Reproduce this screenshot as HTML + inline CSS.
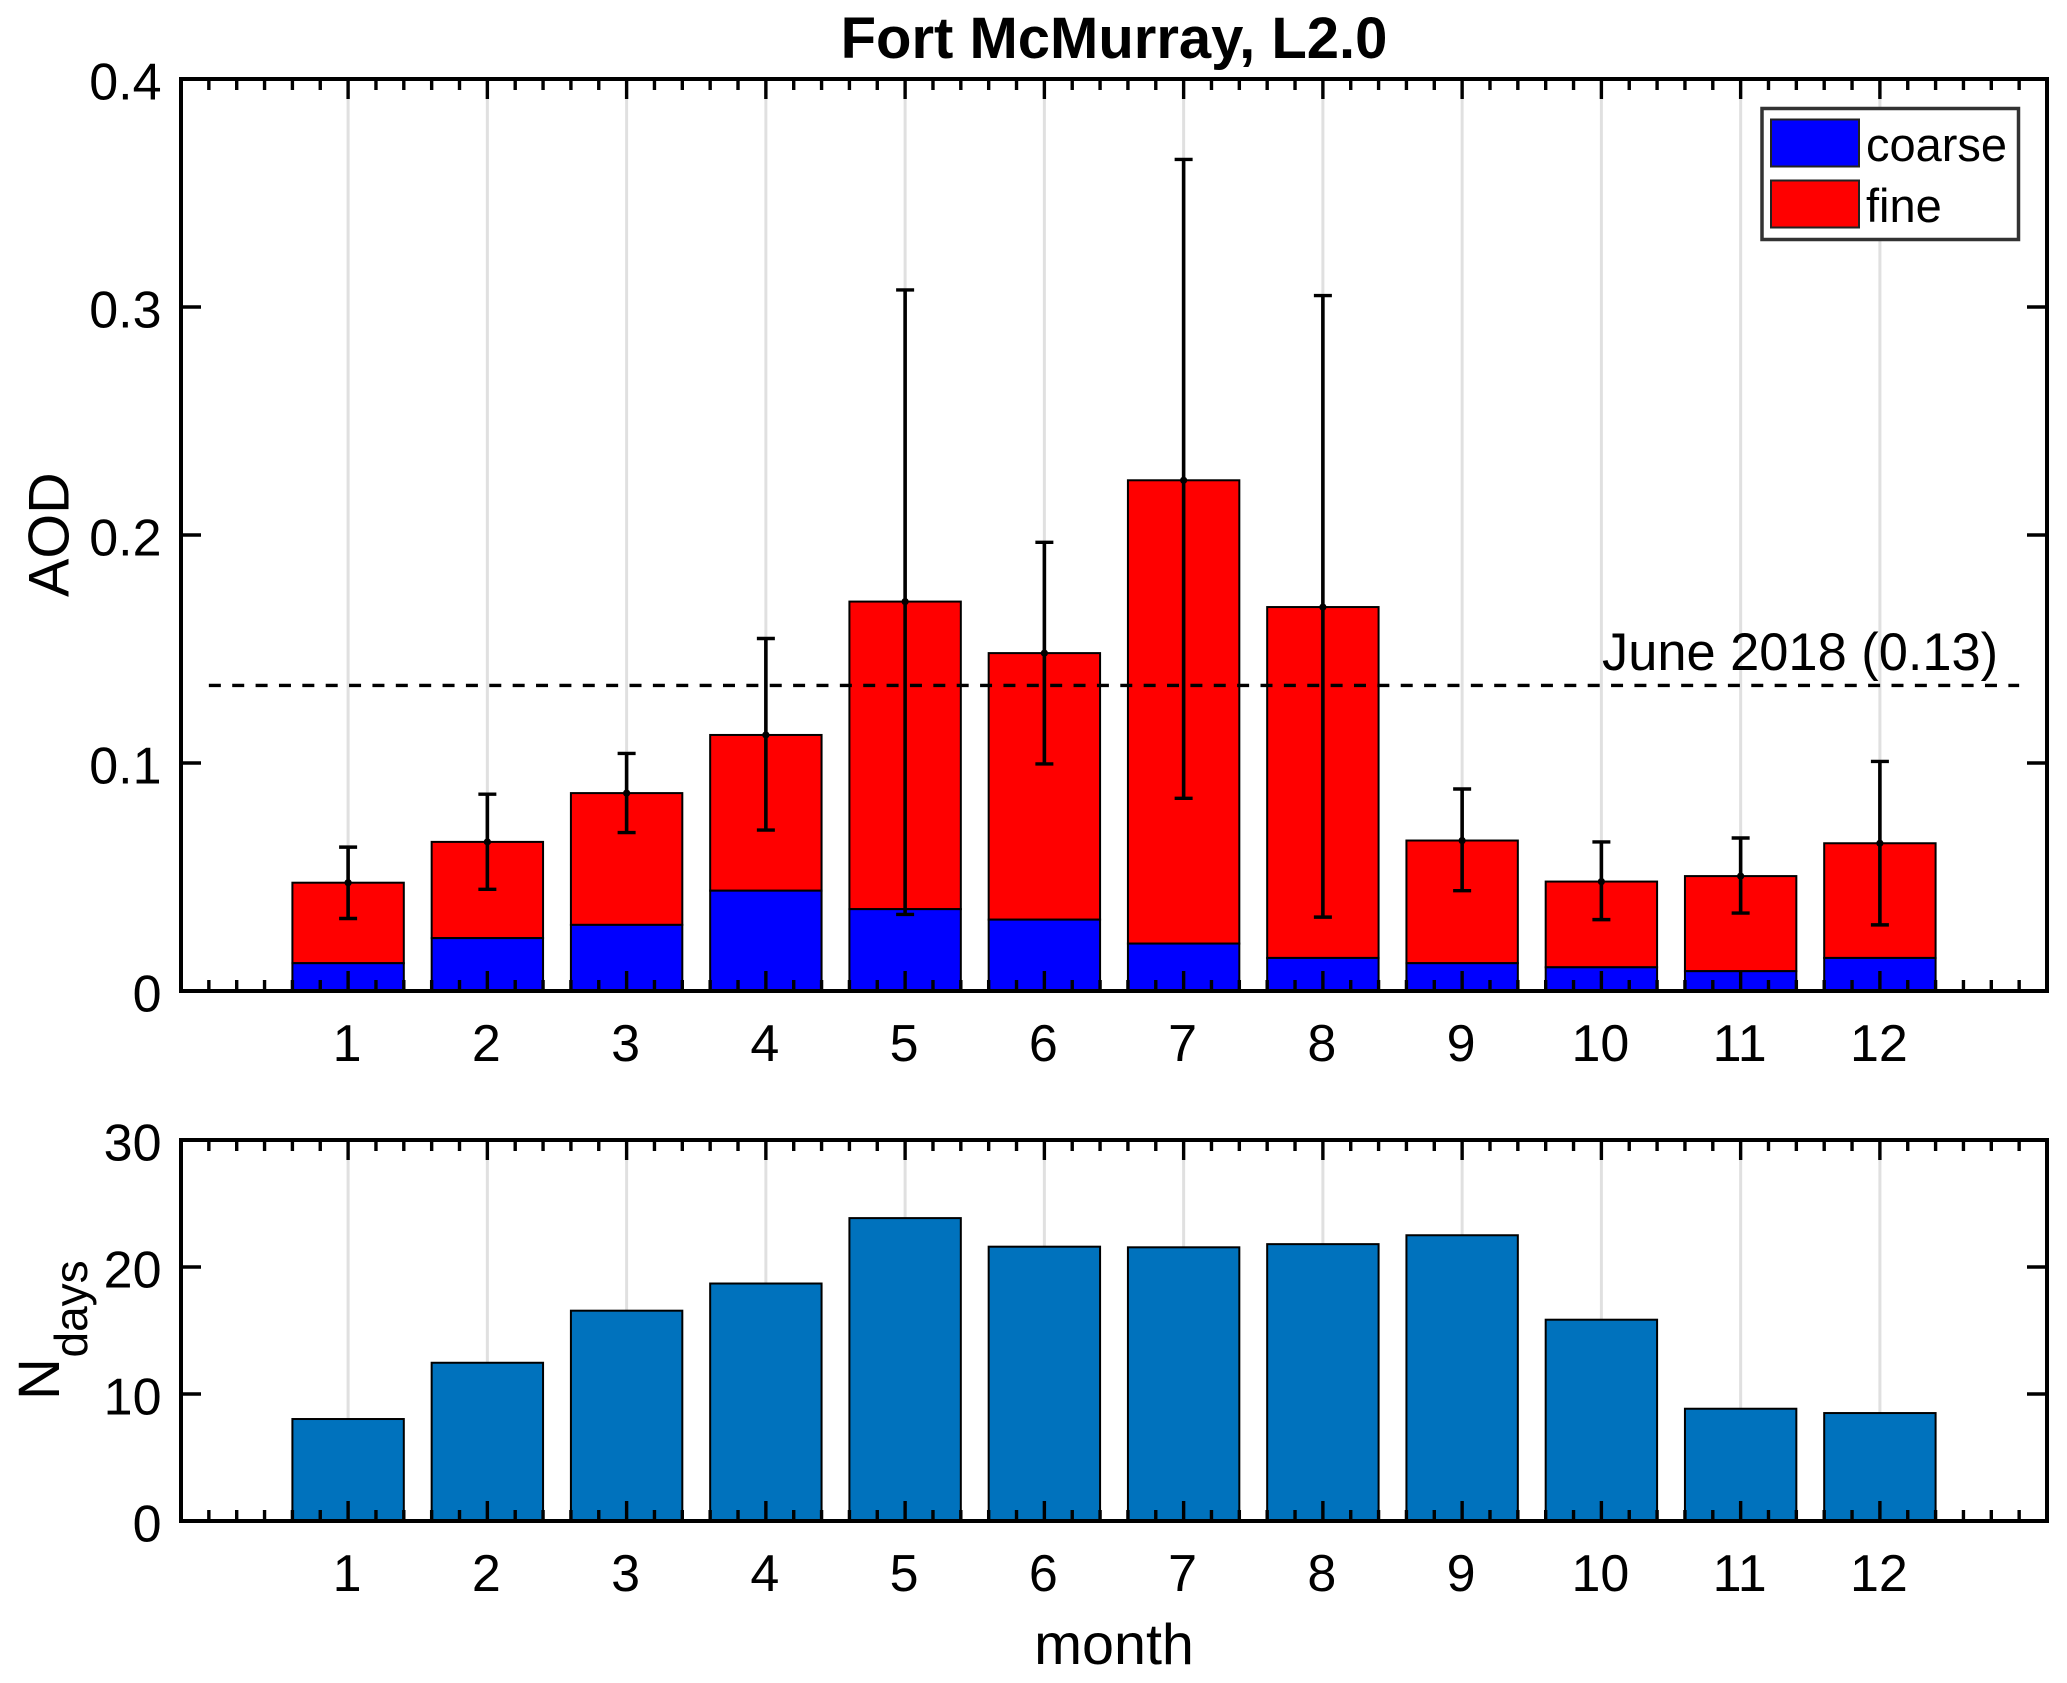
<!DOCTYPE html>
<html lang="en">
<head>
<meta charset="utf-8">
<title>Fort McMurray, L2.0</title>
<style>
html,body{margin:0;padding:0;background:#fff;width:2067px;height:1683px;overflow:hidden}
svg{display:block}
text{font-family:"Liberation Sans",Arial,sans-serif;fill:#000}
</style>
</head>
<body>
<svg id="chart" xmlns="http://www.w3.org/2000/svg" width="2067" height="1683" viewBox="0 0 2067 1683">
  <text x="1114" y="58" font-size="58" font-weight="700" text-anchor="middle">Fort McMurray, L2.0</text>
  <text transform="translate(68.5 597) rotate(-90)" font-size="57.5">AOD</text>
  <text transform="translate(59 1400) rotate(-90)" font-size="58">N</text>
  <text transform="translate(87 1357.5) rotate(-90)" font-size="46">days</text>
  <text x="1114" y="1664" font-size="57.5" text-anchor="middle">month</text>
</svg>
<script>
var months = [1, 2, 3, 4, 5, 6, 7, 8, 9, 10, 11, 12];
var coarseAod = [0.0122, 0.0232, 0.0290, 0.0440, 0.0359, 0.0313, 0.0208, 0.0145, 0.0122, 0.0104, 0.0087, 0.0145];
var fineAod = [0.0353, 0.0422, 0.0578, 0.0683, 0.1349, 0.1169, 0.2032, 0.1539, 0.0538, 0.0376, 0.0417, 0.0503];
var errorUpper = [0.0631, 0.0863, 0.1042, 0.1546, 0.3075, 0.1968, 0.3647, 0.3050, 0.0886, 0.0654, 0.0671, 0.1007];
var errorLower = [0.0318, 0.0446, 0.0695, 0.0706, 0.0336, 0.0996, 0.0845, 0.0324, 0.0440, 0.0313, 0.0342, 0.0290];
var nDays = [8.03, 12.46, 16.56, 18.7, 23.85, 21.6, 21.55, 21.8, 22.5, 15.85, 8.84, 8.5];
var aodTickValues = [0, 0.1, 0.2, 0.3, 0.4];
var aodTickLabels = ['0', '0.1', '0.2', '0.3', '0.4'];
var nDaysTickValues = [0, 10, 20, 30];
var nDaysTickLabels = ['0', '10', '20', '30'];
var referenceValue = 0.134;
var referenceLabel = 'June 2018 (0.13)';
var legendLabels = ['coarse', 'fine'];

var NS = 'http://www.w3.org/2000/svg';
var svg = document.getElementById('chart');
var LEFT = 181, RIGHT = 2047;
var XMIN = -0.2, XMAX = 13.2, BAR_WIDTH = 0.8;

function x(m) { return LEFT + (m - XMIN) / (XMAX - XMIN) * (RIGHT - LEFT); }
function yTop(v) { return 991 - v / 0.4 * (991 - 79); }
function yBottom(v) { return 1521 - v / 30 * (1521 - 1140); }

function make(tag, attrs, text) {
  var el = document.createElementNS(NS, tag);
  for (var k in attrs) el.setAttribute(k, attrs[k]);
  if (text !== undefined) el.textContent = text;
  svg.appendChild(el);
  return el;
}
function line(x1, y1, x2, y2, color, width, extra) {
  var a = { x1: x1, y1: y1, x2: x2, y2: y2, stroke: color, 'stroke-width': width };
  for (var k in (extra || {})) a[k] = extra[k];
  return make('line', a);
}
function rect(x0, y0, w, h, fill, stroke, sw) {
  return make('rect', { x: x0, y: y0, width: w, height: h, fill: fill, stroke: stroke, 'stroke-width': sw });
}

function drawGrid(panel, top, bottom) {
  months.forEach(function (m) {
    var g = line(x(m), top + 20, x(m), bottom, '#e0e0e0', 3);
    
    
  });
}

function drawAxes(panel, top, bottom, yScale, yValues, yLabels) {
  var k, pos, isMajor, len, t;
  for (k = 0; k <= 67; k++) {
    var mv = XMIN + k * 0.2;
    pos = x(mv);
    isMajor = Math.abs(mv - Math.round(mv)) < 0.01 && Math.round(mv) >= 1 && Math.round(mv) <= 12;
    len = isMajor ? 20 : 11;
    t = line(pos, bottom, pos, bottom - len, '#000', 3.4);
    
    
    t = line(pos, top, pos, top + len, '#000', 3.4);
    
    
  }
  yValues.forEach(function (v, i) {
    var py = yScale(v);
    var a = line(LEFT, py, LEFT + 20, py, '#000', 3.4);
    
    
    var b = line(RIGHT, py, RIGHT - 20, py, '#000', 3.4);
    
    
    var lab = make('text', { x: 161.5, y: py + 20.5, 'font-size': 52, 'text-anchor': 'end' }, yLabels[i]);
    
    
  });
  months.forEach(function (m) {
    var lab = make('text', { x: x(m) - 1, y: bottom + 70, 'font-size': 52, 'text-anchor': 'middle' }, String(m));
    
    
  });
  var box = rect(LEFT, top, RIGHT - LEFT, bottom - top, 'none', '#000', 4);
  
  
}

/* ---------- top panel: AOD ---------- */
drawGrid('aod', 79, 991);
months.forEach(function (m, i) {
  var bw = (x(BAR_WIDTH) - x(0));
  var total = coarseAod[i] + fineAod[i];
  var fineBar = rect(x(m) - bw / 2, yTop(total), bw, yTop(coarseAod[i]) - yTop(total), '#ff0000', '#000', 2);
  
  
  var coarseBar = rect(x(m) - bw / 2, yTop(coarseAod[i]), bw, yTop(0) - yTop(coarseAod[i]), '#0000ff', '#000', 2);
  
  
});
months.forEach(function (m, i) {
  var total = coarseAod[i] + fineAod[i];
  var stem = line(x(m), yTop(errorUpper[i]), x(m), yTop(errorLower[i]), '#000', 3.6);
  
  
  var capU = line(x(m) - 9, yTop(errorUpper[i]), x(m) + 9, yTop(errorUpper[i]), '#000', 3.4);
  
  
  var capL = line(x(m) - 9, yTop(errorLower[i]), x(m) + 9, yTop(errorLower[i]), '#000', 3.4);
  
  
  var dot = make('circle', { cx: x(m), cy: yTop(total), r: 3.6, fill: '#000' });
  
  
});
var refLine = line(x(0), yTop(referenceValue), x(13), yTop(referenceValue), '#000', 3.4, { 'stroke-dasharray': '12 11.37' });


var refText = make('text', { x: 1602, y: yTop(referenceValue) - 15.3, 'font-size': 52.4 }, referenceLabel);


drawAxes('aod', 79, 991, yTop, aodTickValues, aodTickLabels);

/* ---------- legend ---------- */
var legendBox = rect(1762, 108.5, 256.5, 131, '#fff', '#333', 3.5);


var swatchCoarse = rect(1771, 119.5, 88, 47, '#0000ff', '#222', 2);


var swatchFine = rect(1771, 180.5, 88, 47, '#ff0000', '#222', 2);


var labelCoarse = make('text', { x: 1866, y: 161, 'font-size': 47 }, legendLabels[0]);


var labelFine = make('text', { x: 1866, y: 222, 'font-size': 47 }, legendLabels[1]);



/* ---------- bottom panel: Ndays ---------- */
drawGrid('ndays', 1140, 1521);
months.forEach(function (m, i) {
  var bw = (x(BAR_WIDTH) - x(0));
  var bar = rect(x(m) - bw / 2, yBottom(nDays[i]), bw, yBottom(0) - yBottom(nDays[i]), '#0072bd', '#000', 2);
  
  
});
drawAxes('ndays', 1140, 1521, yBottom, nDaysTickValues, nDaysTickLabels);
</script>
</body>
</html>
